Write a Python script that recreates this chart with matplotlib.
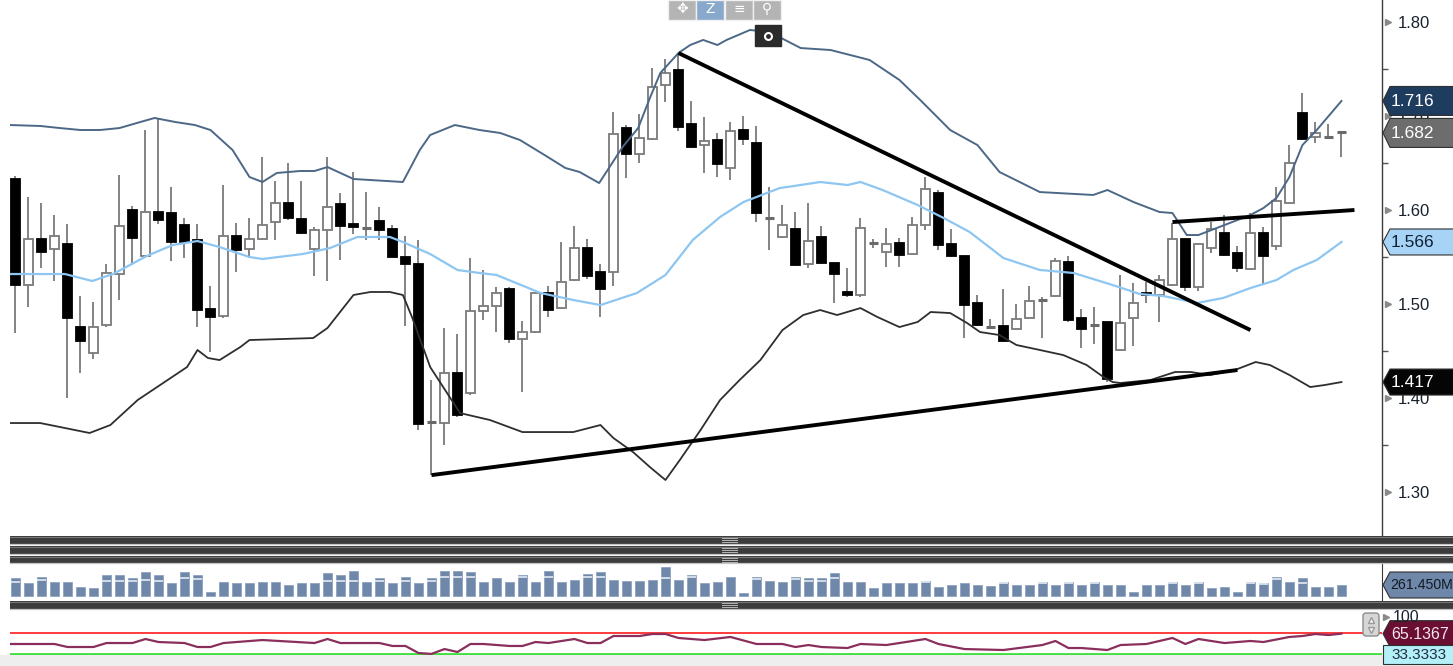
import numpy as np
import matplotlib
matplotlib.use("Agg")
import matplotlib.pyplot as plt
import matplotlib.transforms as mtrans
from matplotlib.patches import Rectangle, Polygon, FancyBboxPatch

# ---------------- data ----------------
opens = [1.633, 1.520, 1.569, 1.558, 1.564, 1.476, 1.4475, 1.478, 1.532, 1.600,
         1.551, 1.598, 1.5965, 1.584, 1.568, 1.4947, 1.4876, 1.5727, 1.558, 1.569,
         1.5876, 1.607, 1.590, 1.559, 1.5787, 1.606, 1.5848, 1.5813, 1.588, 1.5795,
         1.550, 1.543, 1.374, 1.373, 1.427, 1.4056, 1.4926, 1.498, 1.5156, 1.4628,
         1.4699, 1.5114, 1.496, 1.5255, 1.560, 1.534, 1.5337, 1.687, 1.660, 1.676,
         1.733, 1.749, 1.692, 1.669, 1.6745, 1.6443, 1.685, 1.671, 1.591, 1.5716,
         1.5795, 1.5422, 1.571, 1.5433, 1.5124, 1.5096, 1.5646, 1.5557, 1.5652, 1.5528,
         1.584, 1.6178, 1.5638, 1.551, 1.5014, 1.4758, 1.4769, 1.4734, 1.4854, 1.5043,
         1.5085, 1.545, 1.4848, 1.4777, 1.4812, 1.451, 1.4848, 1.512, 1.5096, 1.520,
         1.5688, 1.5178, 1.5592, 1.5758, 1.554, 1.5369, 1.5758, 1.5617, 1.6078, 1.703,
         1.6773, 1.678, 1.6826]
closes = [1.520, 1.569, 1.555, 1.572, 1.485, 1.461, 1.476, 1.533, 1.583, 1.570,
          1.598, 1.589, 1.566, 1.566, 1.4936, 1.4865, 1.572, 1.5574, 1.569, 1.584,
          1.607, 1.591, 1.576, 1.579, 1.6035, 1.583, 1.5816, 1.5813, 1.5787, 1.550,
          1.543, 1.3723, 1.374, 1.427, 1.382, 1.4926, 1.4979, 1.5114, 1.4624, 1.4706,
          1.5114, 1.4936, 1.5237, 1.560, 1.5298, 1.516, 1.681, 1.6596, 1.677, 1.731,
          1.7455, 1.6886, 1.6673, 1.6737, 1.649, 1.684, 1.6755, 1.597, 1.591, 1.584,
          1.5415, 1.567, 1.544, 1.5319, 1.5096, 1.5812, 1.5646, 1.5635, 1.552, 1.584,
          1.6223, 1.5628, 1.551, 1.4989, 1.4777, 1.4758, 1.461, 1.4837, 1.5032, 1.5043,
          1.546, 1.483, 1.473, 1.4777, 1.420, 1.480, 1.5014, 1.5096, 1.5255, 1.5688,
          1.5178, 1.5638, 1.5795, 1.552, 1.538, 1.5758, 1.551, 1.6099, 1.6497, 1.676,
          1.6816, 1.678, 1.6826]
highs = [1.636, 1.614, 1.607, 1.595, 1.585, 1.509, 1.502, 1.543, 1.637, 1.604,
         1.685, 1.698, 1.625, 1.592, 1.585, 1.519, 1.6266, 1.5865, 1.592, 1.656,
         1.631, 1.650, 1.631, 1.582, 1.656, 1.618, 1.640, 1.6195, 1.6035, 1.584,
         1.572, 1.568, 1.419, 1.474, 1.468, 1.5486, 1.536, 1.5178, 1.5184, 1.482,
         1.512, 1.519, 1.566, 1.583, 1.569, 1.543, 1.7046, 1.690, 1.702, 1.7507,
         1.761, 1.7667, 1.716, 1.6986, 1.6816, 1.694, 1.700, 1.6894, 1.625, 1.6053,
         1.598, 1.607, 1.583, 1.5433, 1.538, 1.592, 1.569, 1.5805, 1.570, 1.593,
         1.6354, 1.621, 1.580, 1.551, 1.5096, 1.4837, 1.5156, 1.4997, 1.519, 1.5078,
         1.5486, 1.551, 1.4944, 1.4964, 1.4812, 1.531, 1.522, 1.5237, 1.5309, 1.586,
         1.5688, 1.564, 1.5876, 1.5947, 1.562, 1.5965, 1.582, 1.625, 1.669, 1.7248,
         1.694, 1.692, 1.683]
lows = [1.4695, 1.497, 1.538, 1.524, 1.400, 1.4263, 1.441, 1.476, 1.504, 1.5415,
        1.551, 1.585, 1.546, 1.549, 1.476, 1.449, 1.485, 1.5337, 1.549, 1.568,
        1.568, 1.589, 1.574, 1.530, 1.525, 1.547, 1.575, 1.568, 1.568, 1.549,
        1.4766, 1.366, 1.318, 1.350, 1.380, 1.403, 1.483, 1.4705, 1.459, 1.4067,
        1.4695, 1.486, 1.495, 1.524, 1.5266, 1.4865, 1.519, 1.6337, 1.650, 1.675,
        1.715, 1.6844, 1.666, 1.639, 1.6354, 1.632, 1.669, 1.5876, 1.5574, 1.570,
        1.540, 1.538, 1.543, 1.5007, 1.5078, 1.508, 1.560, 1.539, 1.539, 1.552,
        1.5787, 1.557, 1.550, 1.4635, 1.477, 1.474, 1.460, 1.473, 1.485, 1.4635,
        1.508, 1.481, 1.453, 1.458, 1.4174, 1.450, 1.4553, 1.5007, 1.4812, 1.519,
        1.514, 1.514, 1.554, 1.551, 1.5344, 1.536, 1.5213, 1.5574, 1.607, 1.675,
        1.6716, 1.678, 1.656]

# Bollinger bands (bar index, price)
upper_x = [-0.42, 1.9, 3.4, 5.0, 6.5, 8.0, 9.6, 10.7, 12.3, 13.8, 15.0, 16.7, 18.0, 19.0,
           20.1, 21.9, 23.0, 24.0, 26.0, 29.8, 31.1, 31.9, 33.8, 35.7, 37.3, 38.8, 40.7,
           42.3, 43.4, 44.9, 46.7, 47.9, 48.8, 49.6, 51.0, 51.9, 52.9, 54.0, 54.7, 56.5,
           58.0, 60.4, 62.7, 65.7, 68.0, 69.6, 71.9, 74.0, 75.7, 78.8, 82.9, 84.0, 86.0,
           88.0, 89.0, 90.1, 91.0, 93.0, 95.0, 96.0, 97.0, 98.0, 99.0, 100.1, 102.0]
upper_v = [1.6904, 1.6894, 1.6872, 1.6851, 1.6851, 1.6872, 1.6936, 1.6979, 1.6936, 1.6904,
           1.6851, 1.6638, 1.6351, 1.6298, 1.6394, 1.6415, 1.6415, 1.6457, 1.6330, 1.6298,
           1.6638, 1.6798, 1.6904, 1.6851, 1.6819, 1.6745, 1.6585, 1.6447, 1.6404, 1.6287,
           1.6670, 1.6872, 1.7191, 1.7457, 1.7670, 1.7755, 1.7809, 1.7755, 1.7809, 1.7915,
           1.7894, 1.7723, 1.7702, 1.7596, 1.7383, 1.7170, 1.6851, 1.6691, 1.6404, 1.6191,
           1.6160, 1.6213, 1.6085, 1.5979, 1.5968, 1.5734, 1.5734, 1.5840, 1.5947, 1.6021,
           1.6128, 1.6351, 1.6691, 1.6851, 1.7160]
mid_x = [-0.42, 3.8, 5.9, 7.5, 10.1, 12.1, 14.0, 15.7, 18.0, 19.0, 22.1, 24.2, 26.3, 28.8,
         29.8, 31.9, 34.0, 35.7, 37.0, 40.4, 42.9, 45.0, 47.8, 50.0, 52.1, 54.2, 56.0, 58.8,
         60.4, 61.9, 64.0, 65.0, 66.7, 69.4, 71.4, 73.4, 76.0, 78.8, 81.4, 84.4, 86.5, 88.3,
         90.9, 92.9, 95.0, 97.0, 98.3, 100.1, 102.0]
mid_v = [1.5319, 1.5319, 1.5245, 1.5319, 1.5511, 1.5628, 1.5670, 1.5606, 1.5500, 1.5479,
         1.5532, 1.5596, 1.5713, 1.5713, 1.5660, 1.5532, 1.5362, 1.5330, 1.5309, 1.5117,
         1.5043, 1.4989, 1.5117, 1.5309, 1.5681, 1.5926, 1.6085, 1.6234, 1.6266, 1.6298,
         1.6266, 1.6298, 1.6213, 1.6053, 1.5915, 1.5766, 1.5489, 1.5362, 1.5330, 1.5202,
         1.5106, 1.5085, 1.5011, 1.5064, 1.5170, 1.5255, 1.5362, 1.5468, 1.5660]
lower_x = [-0.42, 1.9, 3.8, 5.7, 7.3, 9.4, 13.2, 14.0, 14.8, 15.7, 17.3, 18.0, 22.9, 24.0,
           26.0, 27.3, 28.8, 29.8, 30.5, 31.9, 33.2, 34.2, 36.5, 39.0, 42.9, 45.0, 46.0,
           47.5, 48.8, 50.0, 51.1, 52.7, 54.2, 55.7, 57.3, 59.0, 60.6, 61.9, 63.2, 65.0,
           66.3, 68.0, 69.4, 70.4, 71.9, 73.2, 74.2, 75.7, 77.0, 78.8, 80.6, 82.4, 83.7,
           84.4, 85.0, 87.3, 89.2, 90.4, 91.9, 93.8, 95.4, 96.5, 98.0, 99.6, 100.7, 102.0]
lower_v = [1.3734, 1.3734, 1.3681, 1.3628, 1.3713, 1.3979, 1.4330, 1.4511, 1.4426, 1.4404,
           1.4543, 1.4617, 1.4638, 1.4745, 1.5096, 1.5128, 1.5128, 1.5096, 1.4862, 1.4330,
           1.4053, 1.3840, 1.3766, 1.3638, 1.3638, 1.3713, 1.3574, 1.3426, 1.3266, 1.3128,
           1.3340, 1.3660, 1.3979, 1.4191, 1.4404, 1.4723, 1.4883, 1.4936, 1.4883, 1.4957,
           1.4862, 1.4755, 1.4809, 1.4915, 1.4904, 1.4798, 1.4702, 1.4670, 1.4564, 1.4511,
           1.4457, 1.4351, 1.4223, 1.4170, 1.4160, 1.4191, 1.4277, 1.4277, 1.4245, 1.4298,
           1.4383, 1.4351, 1.4245, 1.4117, 1.4138, 1.4170]

# hand-drawn trend lines: (x0, y0, x1, y1)
trend_lines = [(51.0, 1.767, 95.0, 1.4723),
               (32.0, 1.318, 94.0, 1.4298),
               (89.0, 1.5872, 103.0, 1.600)]

# volume (millions) and the light marker line drawn inside some bars
volume = [420, 317, 459, 341, 341, 222, 182, 499, 499, 420,
          562, 499, 317, 562, 499, 103, 341, 317, 317, 341,
          341, 261, 301, 301, 539, 499, 602, 341, 420, 317,
          459, 317, 420, 602, 602, 562, 341, 420, 341, 499,
          341, 602, 341, 380, 523, 562, 380, 364, 364, 380,
          681, 372, 499, 317, 341, 443, 63, 459, 364, 341,
          459, 420, 420, 539, 341, 341, 182, 317, 301, 301,
          364, 222, 261, 301, 261, 246, 341, 261, 261, 341,
          261, 341, 261, 341, 261, 261, 103, 261, 261, 341,
          261, 341, 182, 222, 103, 341, 301, 459, 341, 420,
          222, 222, 261.45]
vol_mark = [341, None, 380, None, None, None, None, 364, 364, 364,
            380, 364, None, 420, 404, None, None, None, None, None,
            None, None, None, None, 364, 364, 364, None, 364, None,
            364, None, 364, 443, 443, 443, None, None, None, 443,
            None, 443, None, None, 443, 443, None, None, None, None,
            420, None, 443, None, None, None, None, 396, None, None,
            396, 364, 364, 420, None, None, None, None, None, None,
            325, None, None, None, None, None, 301, None, None, 301,
            None, 301, None, 301, None, None, None, None, None, 301,
            None, 301, None, None, None, 301, 285, 396, None, 317,
            None, None, None]

# RSI (bar index, value)
rsi_x = [-0.4, 3, 4, 6, 7, 9, 10, 11, 13, 14, 15, 16, 19, 23, 24, 25, 28, 29, 30, 31,
         32, 33, 34, 35, 36, 38, 39, 40, 41, 43, 44, 45, 46, 48, 49, 50, 51, 53, 55, 57,
         59, 60, 61, 62, 64, 65, 67, 70, 71, 73, 76, 79, 80, 81, 82, 84, 85, 87, 89, 90,
         91, 93, 95, 96, 98, 99, 100, 101, 102]
rsi_v = [49.0, 49.0, 44.3, 44.3, 50.5, 50.5, 56.8, 52.1, 50.5, 44.3, 44.3, 50.5, 55.2,
         50.5, 56.8, 50.5, 50.5, 45.9, 45.9, 34.9, 33.5, 41.1, 36.5, 49.0, 49.0, 45.9,
         45.9, 52.1, 50.5, 56.8, 50.5, 50.5, 61.5, 61.5, 64.6, 64.6, 58.4, 55.2, 60.0,
         49.0, 49.0, 44.3, 47.4, 44.3, 42.7, 49.0, 47.4, 56.8, 49.0, 41.1, 39.6, 47.4,
         53.7, 42.7, 42.7, 39.6, 47.4, 49.0, 58.4, 49.0, 56.8, 50.5, 53.7, 52.1, 60.0,
         61.5, 64.6, 63.0, 65.1367]
rsi_upper, rsi_lower = 66.6667, 33.3333

price_ticks = [1.30, 1.40, 1.50, 1.60, 1.70, 1.80]
last_labels = [(1.716, "1.716", "#1e3c5e", "white"),
               (1.682, "1.682", "#6d6d6d", "white"),
               (1.566, "1.566", "#a7d4f6", "#0e2236"),
               (1.417, "1.417", "#050505", "white")]

# ---------------- figure ----------------
W, H = 1453, 666
FONT = ["Liberation Sans", "DejaVu Sans"]
plt.rcParams["font.family"] = FONT
fig = plt.figure(figsize=(W / 100, H / 100), dpi=100)
fig.patch.set_facecolor("white")


def frac(x0, y0, x1, y1):
    return [x0 / W, 1 - y1 / H, (x1 - x0) / W, (y1 - y0) / H]


XL = (-0.423, 105.12)
ax = fig.add_axes(frac(10, 0, 1382, 535))
ax.set_xlim(*XL)
ax.set_ylim(1.2543, 1.8234)
for s in ["top", "left", "bottom"]:
    ax.spines[s].set_visible(False)
ax.spines["right"].set_color("#3a3a3a")
ax.spines["right"].set_linewidth(1.0)
ax.set_xticks([])
ax.yaxis.tick_right()
ax.set_yticks(price_ticks)
ax.set_yticklabels([f"{t:.2f}" for t in price_ticks])
ax.set_yticks([1.35, 1.45, 1.55, 1.65, 1.75], minor=True)
ax.tick_params(axis="y", which="major", length=0, pad=11, labelsize=12, labelcolor="#18222e")
ax.tick_params(axis="y", which="minor", length=4, width=1, color="#555555", direction="out")
btr = mtrans.blended_transform_factory(ax.transAxes, ax.transData)
ax.plot([1.0045] * len(price_ticks), price_ticks, ls="none", marker=">", ms=5,
        color="#8a8a8a", transform=btr, clip_on=False)

# candles
bw = 0.74
for i, (o, h, l, c) in enumerate(zip(opens, highs, lows, closes)):
    ax.vlines(i, l, h, color="#7a7a7a", lw=1.3, zorder=2)
    if abs(c - o) < 0.0006:
        ax.hlines(o, i - bw / 2, i + bw / 2, color="#6a6a6a", lw=2.2, zorder=3)
        continue
    up = c > o
    ax.add_patch(Rectangle((i - bw / 2, min(o, c)), bw, abs(c - o),
                           facecolor="white" if up else "black",
                           edgecolor="#7a7a7a" if up else "black", lw=1.3, zorder=3))

ax.plot(upper_x, upper_v, color="#4c6886", lw=1.4, zorder=4)
ax.plot(mid_x, mid_v, color="#8ec6f2", lw=1.6, zorder=4)
ax.plot(lower_x, lower_v, color="#2e2e2e", lw=1.3, zorder=4)
for x0, y0, x1, y1 in trend_lines:
    ax.plot([x0, x1], [y0, y1], color="black", lw=2.8, solid_capstyle="butt", zorder=5)

# volume panel
axv = fig.add_axes(frac(10, 563, 1382, 600))
axv.set_xlim(*XL)
axv.set_ylim(-95, 784)
for s in ["top", "left", "bottom"]:
    axv.spines[s].set_visible(False)
axv.spines["right"].set_color("#3a3a3a")
axv.set_xticks([]); axv.set_yticks([])
xs = np.arange(len(volume))
axv.bar(xs, volume, width=0.72, color="#6f87a9", edgecolor="#8fa3c0", lw=0.6)
for i, m in enumerate(vol_mark):
    if m is not None:
        axv.hlines(m, i - 0.36, i + 0.36, color="#e4ebf4", lw=1.2)

# RSI panel
axr = fig.add_axes(frac(10, 609, 1382, 655))
axr.set_xlim(*XL)
axr.set_ylim(31.8, 103.7)
for s in axr.spines.values():
    s.set_visible(False)
axr.set_xticks([]); axr.set_yticks([])
axr.axhline(rsi_upper, color="#ff3b3b", lw=1.4)
axr.axhline(rsi_lower, color="#3ee03e", lw=2.0)
axr.plot(rsi_x, rsi_v, color="#8a2f5c", lw=1.6)

# overlay in pixel coordinates
ov = fig.add_axes([0, 0, 1, 1], zorder=10)
ov.set_xlim(0, W); ov.set_ylim(H, 0); ov.axis("off"); ov.patch.set_alpha(0)


def ypx(a, v):
    return H - a.transData.transform((0, v))[1]


# panel separators
for y0, y1 in [(536, 544), (546, 554), (556, 563), (601, 609)]:
    ov.add_patch(Rectangle((10, y0), W - 10, y1 - y0, fc="#3c3c3c", ec="none"))
    ov.plot([10, W], [y0 + 0.6, y0 + 0.6], color="#777777", lw=0.8)
    ov.plot([10, W], [y1, y1], color="#c4c4c4", lw=0.9)
    for k in range(3):
        ov.plot([722, 737], [y0 + 2 + 2 * k, y0 + 2 + 2 * k], color="#b5b5b5", lw=0.7)
ov.add_patch(Rectangle((0, 655), W, 11, fc="#eeeeee", ec="none"))

# RSI axis "100" (mostly covered by the value tag)
ov.plot([1386], [ypx(axr, 100) + 6], marker=">", ms=5, color="#8a8a8a")
ov.text(1393, ypx(axr, 100) + 6, "100", fontsize=11.5, va="center", color="#18222e")


def tag(a, v, text, fc, tc, h=13, x0=1383, x1=W + 2, tip=7, pent=True, fs=12.5, tx=8):
    y = ypx(a, v)
    if pent:
        pts = [(x0, y), (x0 + tip, y - h), (x1, y - h), (x1, y + h), (x0 + tip, y + h)]
    else:
        pts = [(x0, y - h), (x1, y - h), (x1, y + h), (x0, y + h)]
    ov.add_patch(Polygon(pts, closed=True, fc=fc, ec="#303030", lw=0.8))
    ov.text(x0 + tx, y + 0.5, text, color=tc, fontsize=fs, va="center", ha="left")


for v, t, fc, tc in last_labels:
    tag(ax, v, t, fc, tc, h=14.5 if v > 1.65 else 13)
tag(axv, volume[-1], f"{volume[-1]:.3f}M", "#6f87a9", "#111a26", fs=10.2, tx=7)
tag(axr, rsi_v[-1], f"{rsi_v[-1]:.4f}", "#6a0f32", "#f6e6ee", fs=11.5)
tag(axr, rsi_lower, f"{rsi_lower:.4f}", "#b4f0f8", "#1e2e40", h=9.5, pent=False, fs=11)

# small scroll widget of the RSI panel
ov.add_patch(FancyBboxPatch((1363, 613), 16, 23, boxstyle="round,pad=0,rounding_size=3",
                            fc="#d6d6d6", ec="#8c8c8c", lw=1))
ov.plot([1371], [620], marker="^", ms=5, color="#f4f4f4", mec="#9a9a9a")
ov.plot([1371], [630], marker="v", ms=5, color="#f4f4f4", mec="#9a9a9a")

# chart toolbar at the top
tb = [(668, "✥", "#b4b4b4"), (696, "Z", "#88a8cc"), (725, "≡", "#b4b4b4"), (753, "⚲", "#b4b4b4")]
for x, sym, c in tb:
    ov.add_patch(Rectangle((x, 0), 28, 20, fc=c, ec="#f0f0f0", lw=1))
    ov.text(x + 14, 9, sym, ha="center", va="center", fontsize=10, color="white",
            family=["DejaVu Sans", "Noto Sans"])
ov.add_patch(Rectangle((755, 25), 26, 21, fc="#2b2b2b", ec="#2b2b2b"))
ov.plot([768], [35.5], marker="o", ms=5, mfc="none", mec="white", mew=1.5)

fig.savefig("out.png", dpi=100, facecolor="white")
